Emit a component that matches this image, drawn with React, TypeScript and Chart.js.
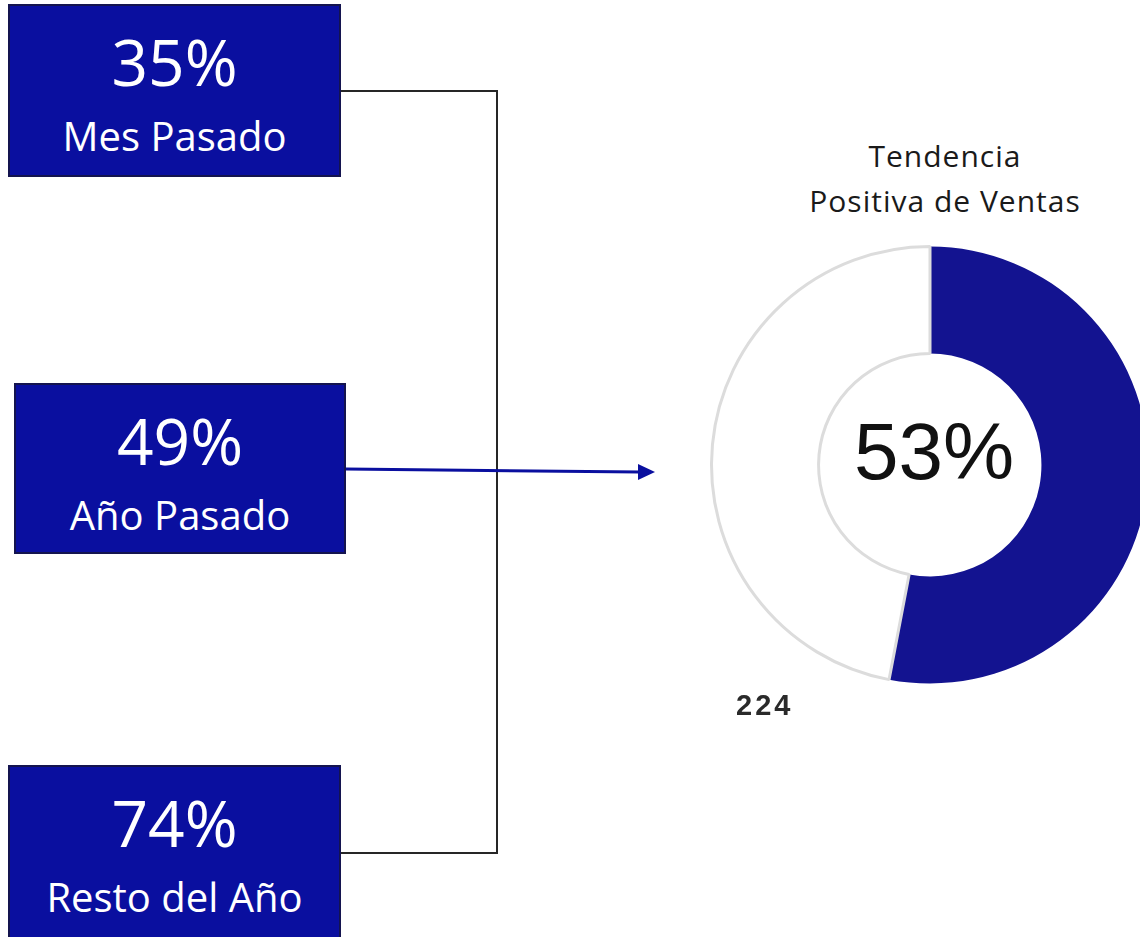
import React, { useEffect, useRef } from "react";
import { Chart, registerables } from "chart.js";

Chart.register(...registerables);

// ---- data ----
const boxValues = ["35%", "49%", "74%"];
const boxLabels = ["Mes Pasado", "Año Pasado", "Resto del Año"];
const donutLabels = ["Positiva", "Resto"];
const donutValues = [53, 47];
const centerLabel = "53%";
const titleLines = ["Tendencia", "Positiva de Ventas"];
const footLabel = "224";

const BOX_BLUE = "#0a0f9f";
const DONUT_BLUE = "#131390";

const boxPos = [
  { left: 8, top: 4, width: 333, height: 173 },
  { left: 14, top: 383, width: 332, height: 171 },
  { left: 8, top: 765, width: 333, height: 180 },
];

function Box({ i }: { i: number }) {
  const p = boxPos[i];
  return (
    <div
      style={{
        position: "absolute",
        left: p.left,
        top: p.top,
        width: p.width,
        height: p.height,
        boxSizing: "border-box",
        background: BOX_BLUE,
        border: "2px solid #14144f",
        color: "#ffffff",
        fontFamily: "'Open Sans', sans-serif",
      }}
    >
      <div
        style={{
          position: "absolute",
          left: 0,
          right: 0,
          top: 24,
          textAlign: "center",
          fontSize: 64,
          lineHeight: "64px",
        }}
      >
        {boxValues[i]}
      </div>
      <div
        style={{
          position: "absolute",
          left: 0,
          right: 0,
          top: 110,
          textAlign: "center",
          fontSize: 40,
          lineHeight: "40px",
        }}
      >
        {boxLabels[i]}
      </div>
    </div>
  );
}

export default function App() {
  const canvasRef = useRef<HTMLCanvasElement | null>(null);

  useEffect(() => {
    if (!canvasRef.current) return;
    const centerText = {
      id: "centerText",
      afterDraw(chart: any) {
        const { ctx, chartArea } = chart;
        const cx = (chartArea.left + chartArea.right) / 2;
        const cy = (chartArea.top + chartArea.bottom) / 2;
        ctx.save();
        ctx.fillStyle = "#111111";
        ctx.font = "80px 'Liberation Sans', Arial, sans-serif";
        ctx.textAlign = "center";
        ctx.textBaseline = "alphabetic";
        ctx.fillText(centerLabel, cx + 4, cy + 14);
        ctx.restore();
      },
    };
    const chart = new Chart(canvasRef.current, {
      type: "doughnut",
      data: {
        labels: donutLabels,
        datasets: [
          {
            data: donutValues,
            backgroundColor: [DONUT_BLUE, "#ffffff"],
            borderColor: [DONUT_BLUE, "#dcdcdc"],
            borderWidth: [0, 3],
          },
        ],
      },
      options: {
        responsive: false,
        animation: false,
        cutout: "51%",
        layout: { padding: { left: 10, right: 10, top: 10, bottom: 10 } },
        plugins: {
          legend: { display: false },
          title: { display: false },
          tooltip: { enabled: false },
        },
      },
      plugins: [centerText],
    });
    return () => chart.destroy();
  }, []);

  return (
    <div
      style={{
        position: "fixed",
        left: 0,
        top: 0,
        width: 1140,
        height: 937,
        overflow: "hidden",
        background: "#ffffff",
      }}
    >
      <svg
        width={1140}
        height={937}
        style={{ position: "absolute", left: 0, top: 0 }}
      >
        <polyline
          points="341,91 497,91 497,853 341,853"
          fill="none"
          stroke="#262626"
          strokeWidth={2}
        />
        <line x1={346} y1={469} x2={640} y2={472} stroke={BOX_BLUE} strokeWidth={3} />
        <polygon points="638,464 655,472 638,480" fill={BOX_BLUE} />
      </svg>
      {boxValues.map((_, i) => (
        <Box key={i} i={i} />
      ))}
      <div
        style={{
          position: "absolute",
          left: 745,
          width: 400,
          top: 133,
          textAlign: "center",
          fontFamily: "'Open Sans', sans-serif",
          fontSize: 30,
          lineHeight: "45px",
          letterSpacing: 1,
          color: "#1a1a1a",
        }}
      >
        {titleLines.map((t, i) => (
          <div key={i}>{t}</div>
        ))}
      </div>
      <canvas
        ref={canvasRef}
        width={460}
        height={460}
        style={{ position: "absolute", left: 700, top: 235 }}
      />
      <div
        style={{
          position: "absolute",
          left: 736,
          top: 690,
          fontFamily: "'Liberation Sans', Arial, sans-serif",
          fontSize: 29,
          lineHeight: "30px",
          letterSpacing: 3,
          fontWeight: 700,
          color: "#2a2a2a",
        }}
      >
        {footLabel}
      </div>
    </div>
  );
}
